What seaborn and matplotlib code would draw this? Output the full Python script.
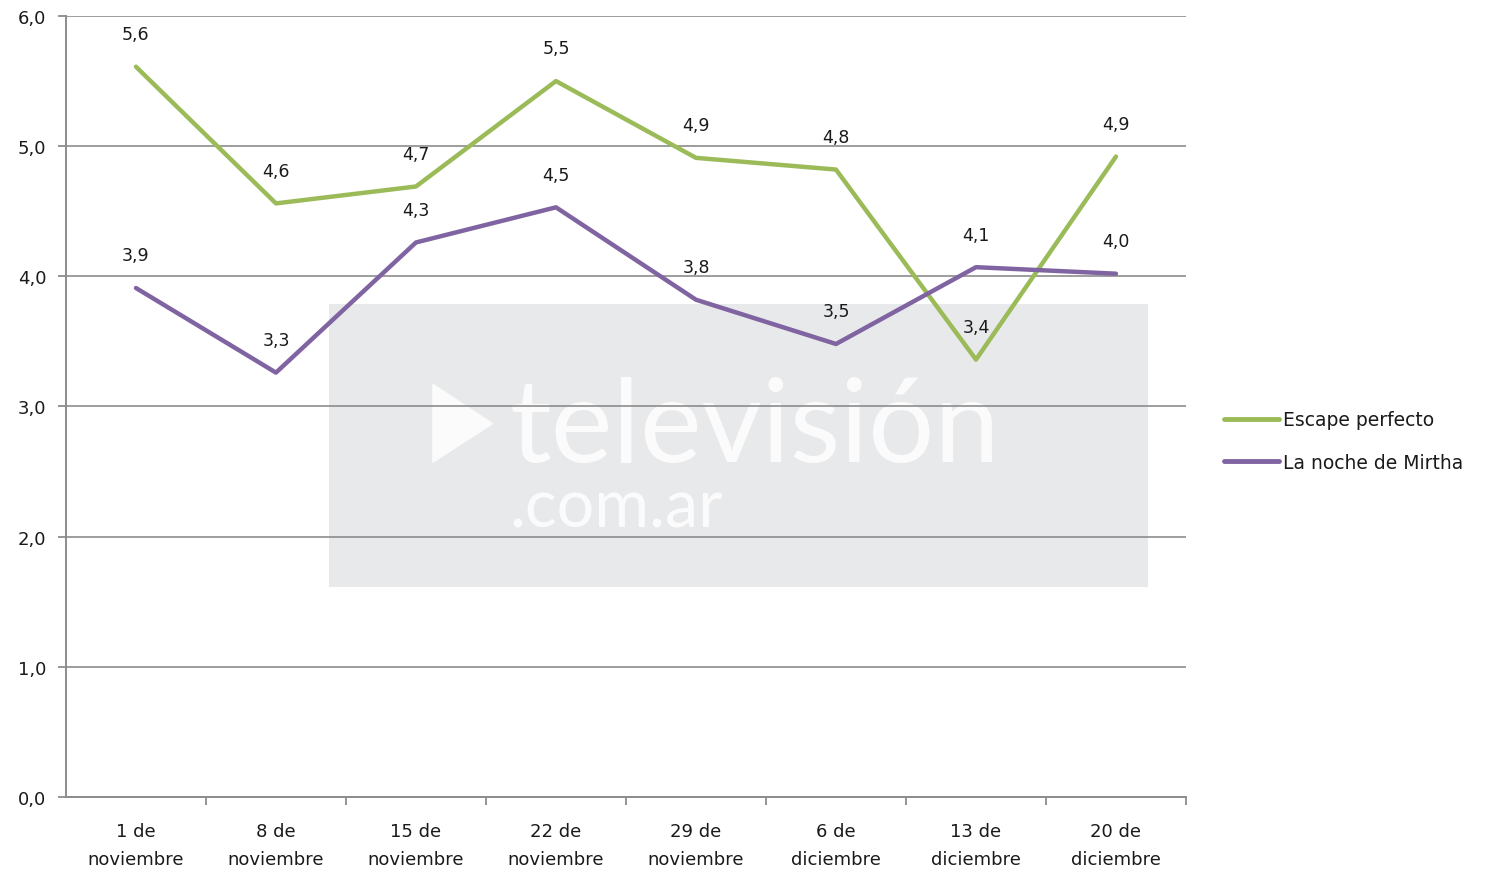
import matplotlib.pyplot as plt
import matplotlib.patches as mpatches
import matplotlib.ticker as mticker
import pandas as pd
import seaborn as sns

# Data
fechas = ['1 de\nnoviembre', '8 de\nnoviembre', '15 de\nnoviembre', '22 de\nnoviembre',
          '29 de\nnoviembre', '6 de\ndiciembre', '13 de\ndiciembre', '20 de\ndiciembre']
escape_perfecto = [5.61, 4.56, 4.69, 5.50, 4.91, 4.82, 3.36, 4.92]
noche_mirtha = [3.91, 3.26, 4.26, 4.53, 3.82, 3.48, 4.07, 4.02]
series = ['Escape perfecto', 'La noche de Mirtha']
colores = ['#9BBB59', '#8064A2']

df = pd.DataFrame({
    'fecha': fechas * 2,
    'x': list(range(len(fechas))) * 2,
    'rating': escape_perfecto + noche_mirtha,
    'programa': [series[0]] * len(fechas) + [series[1]] * len(fechas),
})

sns.set_style('white')
plt.rcParams['font.family'] = ['DejaVu Sans']

fig = plt.figure(figsize=(15.06, 8.79), dpi=100)
ax = fig.add_axes([0.0438, 0.0922, 0.7437, 0.8885])

# watermark box behind everything
ax.add_patch(mpatches.Rectangle((0.235, 0.269), 0.731, 0.362, transform=ax.transAxes,
                                facecolor='#E8E9EB', edgecolor='none', zorder=0))
ax.add_patch(mpatches.Polygon([(0.327, 0.427), (0.327, 0.53), (0.382, 0.478)],
                              closed=True, transform=ax.transAxes, facecolor='white',
                              edgecolor='none', alpha=0.85, zorder=0.5))
ax.text(0.396, 0.43, 'televisión', transform=ax.transAxes, fontsize=84,
        family='Lato', color='white', alpha=0.85,
        ha='left', va='baseline', zorder=0.5)
ax.text(0.396, 0.346, '.com.ar', transform=ax.transAxes, fontsize=48,
        family='Lato', color='white', alpha=0.85,
        ha='left', va='baseline', zorder=0.5)

sns.lineplot(data=df, x='x', y='rating', hue='programa', palette=colores,
             linewidth=3.2, ax=ax, legend=False, zorder=3)

# value labels
for vals in [escape_perfecto, noche_mirtha]:
    for i, v in enumerate(vals):
        ax.annotate(f'{v:.1f}'.replace('.', ','), (i, v), xytext=(0, 17),
                    textcoords='offset points', ha='center', va='bottom',
                    fontsize=12.5, color='#1a1a1a', zorder=4)

ax.set_xlim(-0.5, len(fechas) - 0.5)
ax.set_ylim(0, 6)
ax.yaxis.set_major_locator(mticker.MultipleLocator(1))
ax.yaxis.set_major_formatter(mticker.FuncFormatter(lambda v, p: f'{v:.1f}'.replace('.', ',')))
ax.set_xticks(range(len(fechas)))
ax.set_xticklabels(fechas, fontsize=13, linespacing=1.75)
ax.set_xticks([i + 0.5 for i in range(len(fechas))], minor=True)
ax.tick_params(axis='x', which='major', length=0, pad=18, labelcolor='#1a1a1a')
ax.tick_params(axis='x', which='minor', bottom=True, length=6, color='#8c8c8c',
               width=1.3, direction='out')
ax.tick_params(axis='y', left=True, length=6, color='#8c8c8c', width=1.3, direction='out',
               labelsize=13, pad=8, labelcolor='#1a1a1a')
ax.set_xlabel('')
ax.set_ylabel('')

ax.grid(axis='y', color='#8c8c8c', linewidth=1.2, zorder=1)
ax.set_axisbelow(True)
for s in ['top', 'right']:
    ax.spines[s].set_visible(False)
for s in ['left', 'bottom']:
    ax.spines[s].set_color('#8c8c8c')
    ax.spines[s].set_linewidth(1.4)

handles = [plt.Line2D([], [], color=c, linewidth=3.5) for c in colores]
fig.legend(handles, series, loc='center left', bbox_to_anchor=(0.808, 0.497),
           frameon=False, fontsize=13.5, handlelength=2.9, handletextpad=0.25,
           labelspacing=1.25, borderaxespad=0, labelcolor='#1a1a1a')

fig.savefig('out.png', dpi=100)
